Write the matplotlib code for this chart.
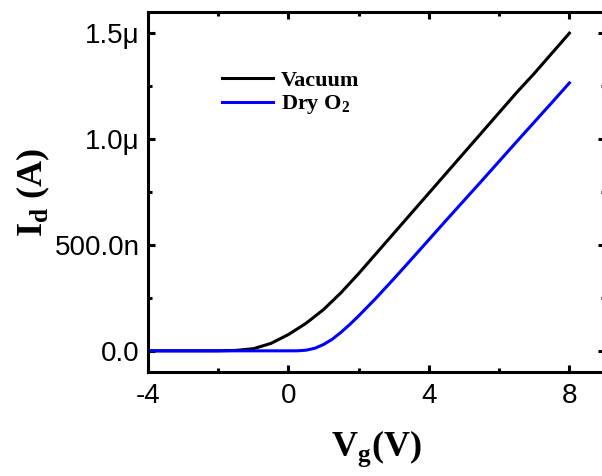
import numpy as np
import matplotlib.pyplot as plt
from matplotlib.ticker import FixedLocator, MultipleLocator

plt.rcParams['mathtext.fontset'] = 'custom'
plt.rcParams['mathtext.rm'] = 'Liberation Serif:bold'
plt.rcParams['mathtext.bf'] = 'Liberation Serif:bold'
plt.rcParams['axes.unicode_minus'] = False

# Gate voltage (V) and drain current (uA)
vg_vac = [-4, -3, -2, -1.5, -1, -0.5, 0, 0.5, 1, 1.5, 2, 2.5, 3, 3.5, 4,
          4.5, 5, 5.5, 6, 6.5, 7, 7.5, 8]
id_vac = [0, 0, 0, 0.002, 0.01, 0.035, 0.077, 0.13, 0.195, 0.275, 0.365,
          0.46, 0.555, 0.65, 0.745, 0.84, 0.935, 1.03, 1.125, 1.22, 1.31,
          1.405, 1.50]

vg_o2 = [-4, -3, -2, -1, 0, 0.25, 0.5, 0.75, 1, 1.25, 1.5, 1.75, 2, 2.5, 3,
         3.5, 4, 4.5, 5, 5.5, 6, 6.5, 7, 7.5, 8]
id_o2 = [0, 0, 0, 0, 0, 0, 0.003, 0.012, 0.03, 0.055, 0.088, 0.125, 0.165,
         0.25, 0.34, 0.432, 0.525, 0.618, 0.71, 0.802, 0.895, 0.988, 1.08,
         1.172, 1.265]

xticks = [-4, 0, 4, 8]
yticks = [0, 0.5e-6, 1.0e-6, 1.5e-6]
ytick_labels = ['0.0', '500.0n', '1.0\u03bc', '1.5\u03bc']

fig = plt.figure(figsize=(6.02, 4.76), dpi=100)
ax = fig.add_axes([148 / 602, 104 / 476, 456.5 / 602, 360 / 476])

ax.plot(vg_vac, np.array(id_vac) * 1e-6, color='black', lw=2.2, label='Vacuum')
ax.plot(vg_o2, np.array(id_o2) * 1e-6, color='#0000ff', lw=2.2, label='Dry O$_2$')

ax.set_xlim(-4, 9)
ax.set_ylim(-0.1e-6, 1.6e-6)
ax.xaxis.set_major_locator(FixedLocator(xticks))
ax.xaxis.set_minor_locator(MultipleLocator(2))
ax.yaxis.set_major_locator(FixedLocator(yticks))
ax.yaxis.set_minor_locator(MultipleLocator(0.25e-6))
ax.set_yticklabels(ytick_labels)

for s in ax.spines.values():
    s.set_linewidth(2.2)
ax.tick_params(which='both', direction='in', top=True, right=True, width=2.2)
ax.tick_params(which='major', length=5, labelsize=20)
ax.tick_params(axis='y', which='major', pad=6)
ax.tick_params(axis='x', which='major', pad=8)
ax.tick_params(which='minor', length=3)
for lab in ax.get_xticklabels() + ax.get_yticklabels():
    lab.set_family('Liberation Sans')

ax.set_xlabel('V$_\\mathrm{g}$(V)', family='Liberation Serif', weight='bold',
              fontsize=26, labelpad=14)
ax.set_ylabel('I$_\\mathrm{d}$ (A)', family='Liberation Serif', weight='bold',
              fontsize=26, labelpad=2)

leg = ax.legend(loc='upper left', bbox_to_anchor=(211 / 602, 1 - 59 / 476),
                bbox_transform=fig.transFigure, frameon=False, borderpad=0,
                handlelength=2.3, handletextpad=0.35, labelspacing=0.12,
                prop={'family': 'Liberation Serif', 'weight': 'bold', 'size': 16})

plt.savefig('out.png', dpi=100)
plt.close()
